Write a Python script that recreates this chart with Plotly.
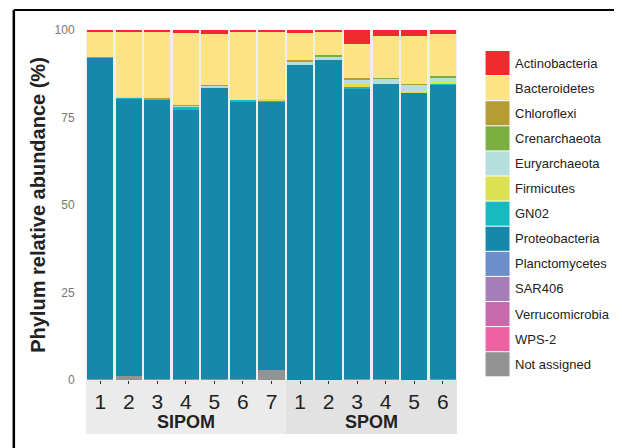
import plotly.graph_objects as go

# ---------------- data ----------------
sample_labels = ["1", "2", "3", "4", "5", "6", "7", "1", "2", "3", "4", "5", "6"]
groups = ["SIPOM", "SPOM"]
group_sizes = [7, 6]

phyla = ["Actinobacteria", "Bacteroidetes", "Chloroflexi", "Crenarchaeota",
         "Euryarchaeota", "Firmicutes", "GN02", "Proteobacteria",
         "Planctomycetes", "SAR406", "Verrucomicrobia", "WPS-2", "Not assigned"]

actinobacteria  = [0.6, 0.6, 0.6, 0.9, 1.1, 0.6, 0.3, 0.9, 0.6, 4.0, 1.7, 1.7, 1.1]
bacteroidetes   = [7.1, 18.5, 18.8, 20.4, 14.6, 19.5, 19.5, 7.7, 6.6, 9.7, 12.0, 13.7, 12.0]
chloroflexi     = [0.3, 0.0, 0.4, 0.3, 0.1, 0.0, 0.0, 0.5, 0.0, 0.6, 0.0, 0.3, 0.0]
crenarchaeota   = [0.0, 0.0, 0.0, 0.0, 0.0, 0.0, 0.0, 0.0, 0.6, 0.0, 0.3, 0.0, 0.3]
euryarchaeota   = [0.0, 0.2, 0.0, 0.4, 0.3, 0.0, 0.0, 0.9, 0.9, 1.1, 1.4, 2.0, 1.4]
firmicutes      = [0.0, 0.0, 0.0, 0.0, 0.2, 0.0, 0.3, 0.0, 0.0, 0.9, 0.0, 0.3, 0.3]
gn02            = [0.0, 0.3, 0.0, 0.8, 0.0, 0.2, 0.3, 0.0, 0.0, 0.3, 0.0, 0.0, 0.3]
proteobacteria  = [91.8, 79.3, 79.9, 76.9, 83.3, 79.3, 76.6, 89.9, 91.2, 83.1, 84.3, 81.9, 84.1]
planctomycetes  = [0.0] * 13
sar406          = [0.0, 0.0, 0.0, 0.0, 0.0, 0.0, 0.0, 0.0, 0.0, 0.0, 0.0, 0.0, 0.2]
verrucomicrobia = [0.0, 0.0, 0.0, 0.0, 0.0, 0.0, 0.0, 0.0, 0.0, 0.0, 0.0, 0.0, 0.2]
wps2            = [0.0, 0.0, 0.3, 0.3, 0.0, 0.0, 0.0, 0.0, 0.0, 0.3, 0.3, 0.0, 0.0]
not_assigned    = [0.2, 1.1, 0.0, 0.0, 0.4, 0.4, 3.0, 0.1, 0.1, 0.0, 0.0, 0.1, 0.0]

values = [actinobacteria, bacteroidetes, chloroflexi, crenarchaeota, euryarchaeota,
          firmicutes, gn02, proteobacteria, planctomycetes, sar406, verrucomicrobia,
          wps2, not_assigned]

colors = ["#EE2A2E", "#FCE383", "#B59D33", "#7BAF41", "#B4DFDD", "#DCE150",
          "#17BBBF", "#1688AA", "#6B8FCB", "#A57DB9", "#C86AAB", "#EE62A4", "#939393"]

y_ticks = [0, 25, 50, 75, 100]

# ---------------- layout geometry (page pixels) ----------------
W, H = 622, 448
OFF = 8  # page body margin offset
L, R, T, B = 85.8, 457.4, 30, 380
pw, ph = R - L, B - T

def px(x):
    return (x - L) / pw

def py(y):
    return (B - y) / ph

FONT = "Liberation Sans, Arial, sans-serif"
xs = list(range(len(sample_labels)))

fig = go.Figure()
# stack bottom-up: Not assigned first, Actinobacteria last
for name, vals, col in reversed(list(zip(phyla, values, colors))):
    fig.add_trace(go.Bar(x=xs, y=vals, name=name, marker=dict(color=col, line=dict(width=0)),
                         showlegend=False))

shapes = []
annotations = []

# facet strips below the bars
start = -0.5
strip_cols = ["#EBEBEB", "#E2E2E2"]
for g, n, sc in zip(groups, group_sizes, strip_cols):
    end = start + n
    shapes.append(dict(type="rect", xref="x", yref="paper", x0=start, x1=end,
                       y0=py(434), y1=0, fillcolor=sc, line=dict(width=0), layer="below"))
    annotations.append(dict(x=(start + end) / 2, xref="x", y=py(422), yref="paper",
                            text="<b>" + g + "</b>", showarrow=False,
                            font=dict(size=18, color="#222222", family=FONT),
                            xanchor="center", yanchor="middle"))
    start = end

# legend drawn as swatches
top0, step = 51, 25.1
for i, (name, col) in enumerate(zip(phyla, colors)):
    y0 = top0 + i * step
    shapes.append(dict(type="rect", xref="paper", yref="paper", x0=px(486), x1=px(510),
                       y0=py(y0 + step - 1), y1=py(y0), fillcolor=col, line=dict(width=0)))
    annotations.append(dict(x=px(513), xref="paper", y=py(y0 + (step - 1) / 2), yref="paper",
                            text=name, showarrow=False, xanchor="left", yanchor="middle",
                            font=dict(size=13, color="#222222", family=FONT)))

# outer frame lines (top and left)
shapes.append(dict(type="line", xref="paper", yref="paper", x0=px(13.5), x1=px(630),
                   y0=py(10), y1=py(10), line=dict(color="black", width=2)))
shapes.append(dict(type="line", xref="paper", yref="paper", x0=px(13.5), x1=px(13.5),
                   y0=py(10), y1=py(456), line=dict(color="black", width=2.5)))

fig.update_layout(
    width=W, height=H,
    margin=dict(l=L - OFF, r=W - (R - OFF), t=T - OFF, b=H - (B - OFF), pad=0),
    barmode="stack", bargap=0.083,
    plot_bgcolor="#EEEEEE", paper_bgcolor="white",
    font=dict(family=FONT),
    shapes=shapes, annotations=annotations,
    xaxis=dict(range=[-0.5, len(xs) - 0.5], tickmode="array", tickvals=xs, ticktext=sample_labels,
               ticks="outside", ticklen=3, tickcolor="#333333", tickwidth=1,
               tickfont=dict(size=21, color="#222222", family=FONT),
               showgrid=False, zeroline=False, showline=False, fixedrange=True),
    yaxis=dict(range=[0, 100], tickmode="array", tickvals=y_ticks,
               ticks="outside", ticklen=8, tickcolor="rgba(0,0,0,0)",
               tickfont=dict(size=12, color="#777777", family=FONT),
               showgrid=False, zeroline=False, showline=False,
               title=dict(text="<b>Phylum relative abundance (%)</b>",
                          font=dict(size=20, color="#222222", family=FONT), standoff=3)),
)

fig.write_html("out.html")
